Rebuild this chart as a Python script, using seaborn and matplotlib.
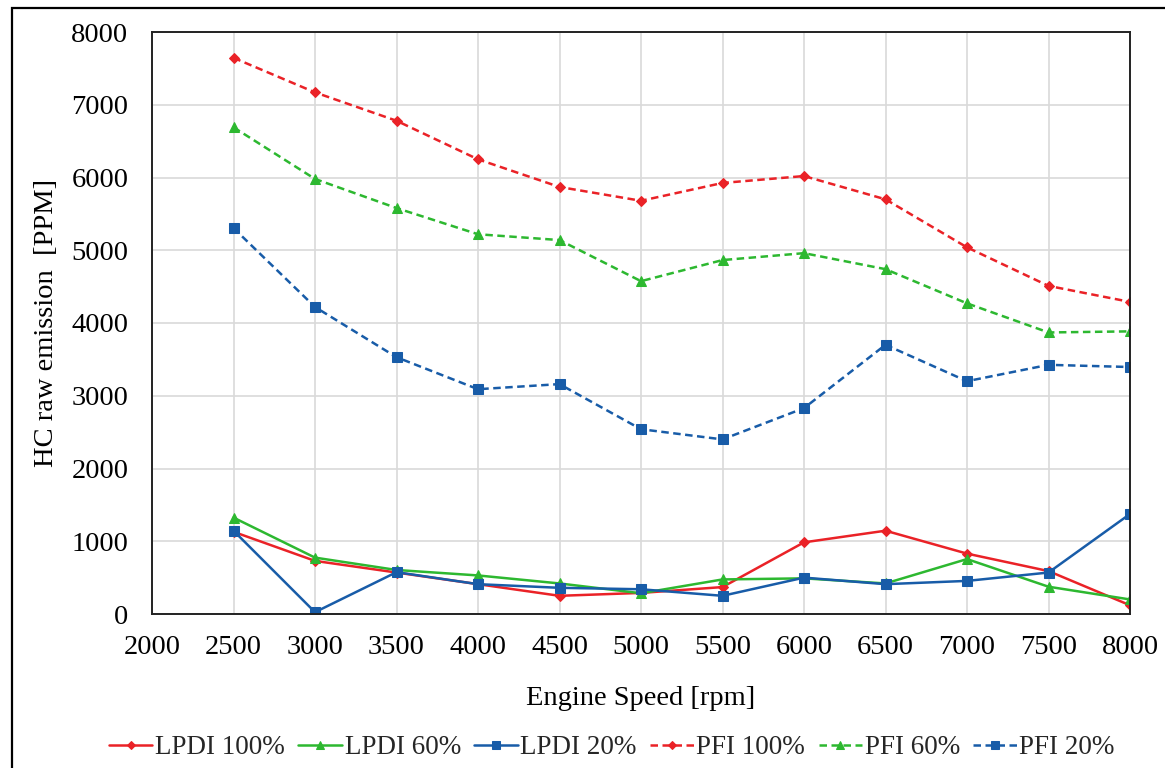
import matplotlib
matplotlib.use("Agg")
import matplotlib.pyplot as plt
from matplotlib.patches import Rectangle
import seaborn as sns
import pandas as pd

speed = [2500, 3000, 3500, 4000, 4500, 5000, 5500, 6000, 6500, 7000, 7500, 8000]

lpdi_100 = [1130, 730, 570, 410, 250, 290, 370, 985, 1145, 830, 590, 120]
lpdi_60 = [1325, 775, 605, 530, 420, 285, 475, 490, 420, 755, 375, 200]
lpdi_20 = [1145, 25, 575, 410, 360, 340, 250, 500, 410, 455, 570, 1375]
pfi_100 = [7645, 7170, 6780, 6250, 5870, 5680, 5925, 6020, 5700, 5040, 4510, 4290]
pfi_60 = [6690, 5980, 5580, 5220, 5140, 4575, 4865, 4960, 4740, 4270, 3870, 3885]
pfi_20 = [5305, 4220, 3530, 3090, 3160, 2540, 2400, 2830, 3700, 3200, 3425, 3395]

series_names = ["LPDI 100%", "LPDI 60%", "LPDI 20%", "PFI 100%", "PFI 60%", "PFI 20%"]
series_values = [lpdi_100, lpdi_60, lpdi_20, pfi_100, pfi_60, pfi_20]

x_ticks = [2000, 2500, 3000, 3500, 4000, 4500, 5000, 5500, 6000, 6500, 7000, 7500, 8000]
y_ticks = [0, 1000, 2000, 3000, 4000, 5000, 6000, 7000, 8000]

RED = "#ea2227"
GREEN = "#2db830"
BLUE = "#185ca8"
DASH = (0, (3, 1.8))
styles = {
    "LPDI 100%": dict(color=RED, marker="D", ls="-", ms=5.5),
    "LPDI 60%": dict(color=GREEN, marker="^", ls="-", ms=7.5),
    "LPDI 20%": dict(color=BLUE, marker="s", ls="-", ms=7.5),
    "PFI 100%": dict(color=RED, marker="D", ls=DASH, ms=5.5),
    "PFI 60%": dict(color=GREEN, marker="^", ls=DASH, ms=7.5),
    "PFI 20%": dict(color=BLUE, marker="s", ls=DASH, ms=7.5),
}

frames = []
for name, vals in zip(series_names, series_values):
    frames.append(pd.DataFrame({"speed": speed, "hc": vals, "series": name}))
df = pd.concat(frames, ignore_index=True)

sns.set_theme(style="whitegrid")
plt.rcParams["font.family"] = ["Liberation Serif", "DejaVu Serif"]

fig = plt.figure(figsize=(11.65, 7.68), dpi=100)
ax = fig.add_axes([152 / 1165, 1 - 614 / 768, (1130 - 152) / 1165, (614 - 32) / 768])

for name in series_names:
    st = styles[name]
    sns.lineplot(
        data=df[df["series"] == name], x="speed", y="hc", ax=ax,
        color=st["color"], marker=st["marker"], markersize=st["ms"],
        markeredgecolor=st["color"], linestyle=st["ls"], linewidth=1.8,
        label=name, legend=False,
    )

ax.set_xlim(2000, 8000)
ax.set_ylim(0, 8000)
ax.set_xticks(x_ticks)
ax.set_yticks(y_ticks)
ax.set_xticklabels([str(v) for v in x_ticks], fontsize=20.5, color="black")
ax.set_yticklabels([str(v) for v in y_ticks], fontsize=20.5, color="black")
ax.tick_params(axis="y", length=0, pad=17)
ax.tick_params(axis="x", length=0, pad=15)
ax.grid(True, color="#d9d9d9", linewidth=1.2)
ax.set_facecolor("white")
for sp in ax.spines.values():
    sp.set_color("#222222")
    sp.set_linewidth(1.4)

ax.set_xlabel("Engine Speed [rpm]", fontsize=20.5, color="black", labelpad=19)
ax.set_ylabel("HC raw emission  [PPM]", fontsize=20.5, color="black", labelpad=9)

handles, labels = ax.get_legend_handles_labels()
fig.legend(
    handles, labels, loc="center", bbox_to_anchor=(612 / 1165, 1 - 748 / 768),
    ncol=6, frameon=False, fontsize=19.5, handlelength=1.6, handletextpad=0.1,
    columnspacing=0.5, markerscale=0.7,
)

# Outer frame around the whole figure
fig.patches.append(Rectangle((12 / 1165, -0.01), 1.05, 1 - 8 / 768 + 0.01,
                             transform=fig.transFigure, fill=False,
                             edgecolor="black", linewidth=1.6, zorder=10))

fig.savefig("out.png", dpi=100, facecolor="white")
